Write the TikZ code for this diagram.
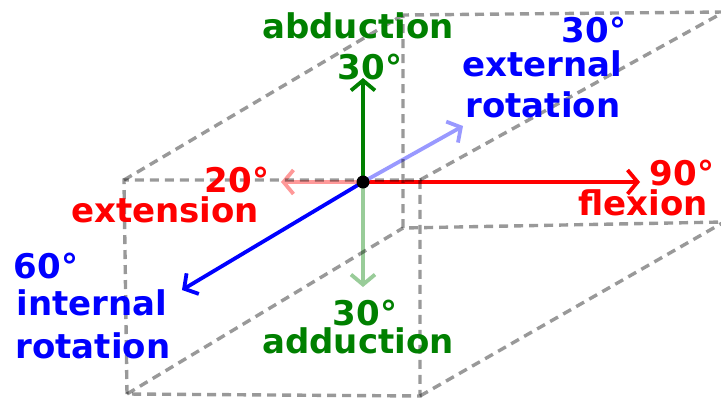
\documentclass[tikz,border=0pt]{standalone}
\usepackage{fontspec}
\setmainfont{DejaVu Sans}
\usetikzlibrary{arrows.meta,positioning}

\begin{document}
\begin{tikzpicture}[x=1pt,y=-1pt,
  axis/.style={line width=3.8pt,-{Straight Barb[length=10pt,width=24pt]}},
  boxline/.style={black,opacity=0.4,line width=3.4pt,dash pattern=on 9pt off 6pt},
  lbl/.style={font=\fontsize{34}{40}\selectfont\bfseries,inner sep=0pt,anchor=base}]
\useasboundingbox (0,0) rectangle (721,399);
\clip (0,0) rectangle (721,399);

% 原点と矢印の先
\coordinate (O) at (363,182);
\coordinate (flex) at (640,182);
\coordinate (ext) at (281,182);
\coordinate (abd) at (363,78);
\coordinate (add) at (363,287);
\coordinate (er) at (463,126);
\coordinate (ir) at (182,290);

% 回転軸
\draw[axis,red] (O) -- (flex);
\draw[axis,red!40] (O) -- (ext);
\draw[axis,green!50!black] (O) -- (abd);
\draw[axis,green!50!black!40] (O) -- (add);
\draw[axis,blue!40] (O) -- (er);
\draw[axis,blue] (O) -- (ir);

% 直方体
\coordinate (f1) at (127,394);
\coordinate (f2) at (124,180);
\coordinate (f3) at (420,180);
\coordinate (f4) at (420,396);
\coordinate (b1) at (403,228);
\coordinate (b2) at (403,15);
\coordinate (b3) at (724,12);
\coordinate (b4) at (724,222);
\draw[boxline] (f1) -- (f2) -- (f3) -- (f4) -- cycle;
\draw[boxline] (b1) -- (b2) -- (b3) -- (b4) -- cycle;
\foreach \i in {1,2,3,4}
  \draw[boxline] (f\i) -- (b\i);

\fill (O) circle (6.5pt);

% ラベル
\node[lbl,green!50!black] (abdtxt) at (358,38) {abduction};
\node[lbl,green!50!black] (abddeg) at (370,79) {30°};
\node[lbl,blue] (erdeg) at (594,42) {30°};
\node[lbl,blue] (ertxt) at (542,76) {external};
\node[lbl,blue] (errot) at (543,117) {rotation};
\node[lbl,red] (extdeg) at (237,192) {20°};
\node[lbl,red] (exttxt) at (165,222) {extension};
\node[lbl,red] (flexdeg) at (682,185) {90°};
\node[lbl,red] (flextxt) at (643,215) {flexion};
\node[lbl,blue] (irdeg) at (46,278) {60°};
\node[lbl,blue] (irtxt) at (92,315) {internal};
\node[lbl,blue] (irrot) at (93,358) {rotation};
\node[lbl,green!50!black] (adddeg) at (365,325) {30°};
\node[lbl,green!50!black] (addtxt) at (358,353) {adduction};
\end{tikzpicture}
\end{document}
